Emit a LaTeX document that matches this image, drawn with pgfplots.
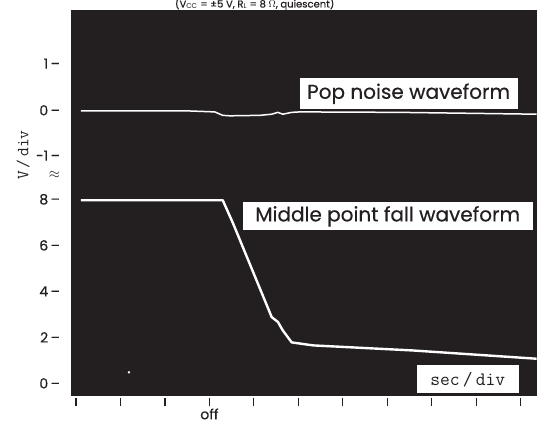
\documentclass[border=0pt]{standalone}
\usepackage{fontspec}
\setmainfont{Poppins}
\newfontfamily\lab{Poppins}[FakeBold=0.4]
\usepackage{pgfplots}
\pgfplotsset{compat=1.18}
\definecolor{scope}{RGB}{35,31,32}
\begin{document}
\begin{tikzpicture}
\useasboundingbox (-70.7pt,-29pt) rectangle (466.3pt,396pt);
\node[anchor=base, font=\lab\fontsize{10}{10}\selectfont, text=scope, inner sep=0pt] at (184pt,388.5pt)
  {(V$_{\mathrm{CC}}$ = ±5 V, R$_{\mathrm{L}}$ = 8 $\Omega$, quiescent)};
\begin{axis}[
  at={(0pt,0pt)}, anchor=south west,
  scale only axis, width=466pt, height=386pt,
  xmin=-0.12, xmax=10.36, ymin=-0.55, ymax=16.23,
  axis background/.style={fill=scope},
  axis x line*=bottom, axis y line*=left,
  axis line style={draw=none},
  xtick={0,1,2,3,4,5,6,7,8,9,10},
  xticklabels={,,,off,,,,,,,},
  tick align=outside,
  major tick length=8pt,
  xtick style={yshift=-2pt, line width=1.1pt, draw=scope},
  ytick={0,2,4,6,8,9.05,9.9,11.87,13.9},
  yticklabels={0\,–,2\,–,4\,–,6\,–,8\,–,$\approx$,-1\,–,0\,–,1\,–},
  ytick style={draw=none},
  /pgf/number format/assume math mode=true,
  ticklabel style={font=\lab\fontsize{14}{14}\selectfont, text=scope},
  yticklabel style={xshift=-2pt, inner sep=0.5pt},
  xticklabel style={yshift=-1pt},
  ylabel={V\,/\,div},
  ylabel style={at={(axis description cs:-0.102,0.624)}, anchor=center, font=\ttfamily\fontsize{17}{17}\selectfont, text=scope},
  clip=true,
]
% middle point fall waveform
\addplot[white, line width=2.4pt, line join=round] coordinates {
 (0.11,7.96) (3.30,7.96) (3.53,6.96) (4.40,2.88) (4.54,2.67) (4.65,2.30)
 (4.85,1.78) (5.33,1.65) (7.57,1.43) (10.36,1.07)
};
% pop noise waveform
\addplot[white, line width=1.5pt, line join=round] coordinates {
 (0.11,11.84) (2.56,11.84) (3.12,11.80) (3.30,11.65) (3.46,11.63) (4.13,11.65)
 (4.40,11.70) (4.54,11.78) (4.65,11.70) (4.85,11.78) (5.03,11.80) (7.28,11.78) (10.36,11.70)
};
\addplot[only marks, mark=*, mark size=1pt, white] coordinates {(1.19,0.48)};
\node[fill=white, text=scope, minimum width=218pt, minimum height=31pt, inner sep=0pt,
  font=\lab\fontsize{20}{20}\selectfont] at (axis cs:7.48,12.59) {Pop noise waveform};
\node[fill=white, text=scope, minimum width=290pt, minimum height=28pt, inner sep=0pt,
  font=\lab\fontsize{20}{20}\selectfont] at (axis cs:7.01,7.26) {Middle point fall waveform};
\node[fill=white, text=scope, minimum width=102pt, minimum height=28pt, inner sep=0pt,
  font=\ttfamily\fontsize{19}{19}\selectfont] at (axis cs:8.81,0.17) {sec\,/\,div};
\end{axis}
\end{tikzpicture}
\end{document}
